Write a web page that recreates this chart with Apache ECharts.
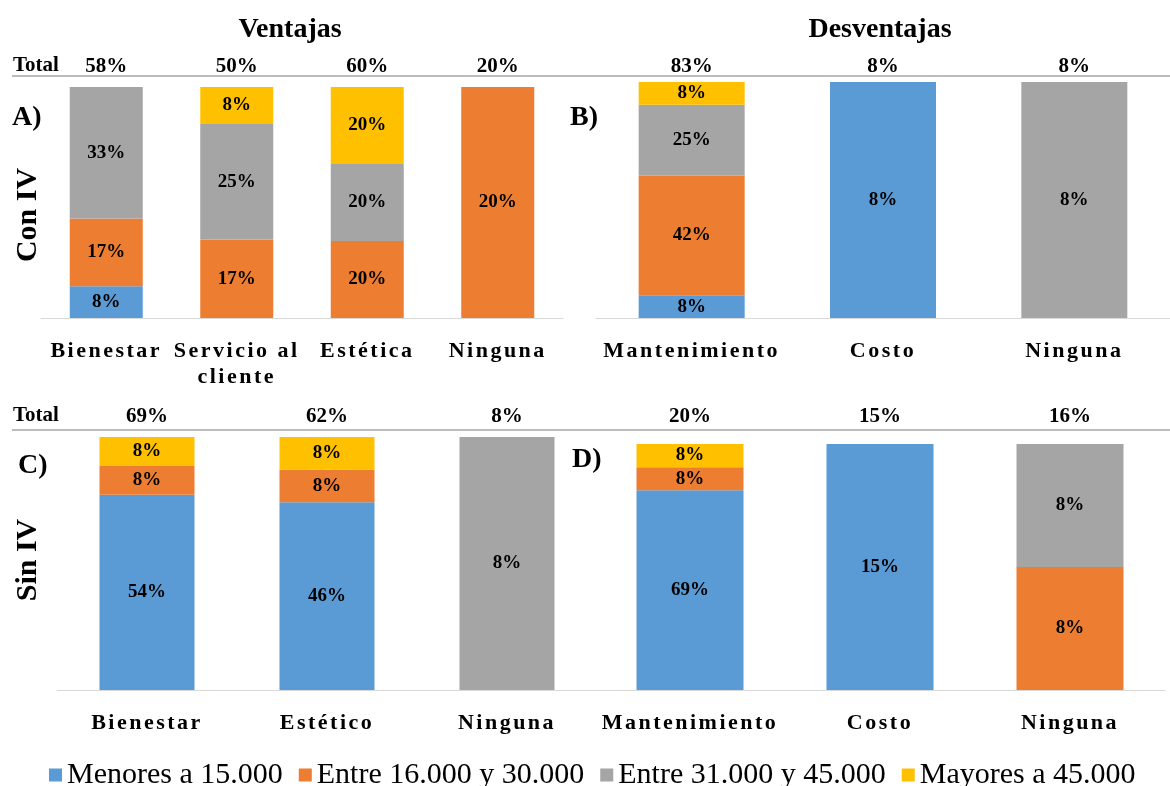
<!DOCTYPE html>
<html>
<head>
<meta charset="utf-8">
<script src="https://cdn.jsdelivr.net/npm/echarts@6/dist/echarts.min.js"></script>
<style>
  html, body { margin: 0; padding: 0; background: #fff; }
  #chart { width: 1170px; height: 786px; }
</style>
</head>
<body>
<div id="chart"></div>
<script>
// rangos de ingreso (leyenda)
const bandNames = ['Menores a 15.000', 'Entre 16.000 y 30.000', 'Entre 31.000 y 45.000', 'Mayores a 45.000'];
const bandColors = ['#5B9BD5', '#ED7D31', '#A5A5A5', '#FFC000'];

// A) Con IV - Ventajas
const catsA = ['Bienestar', 'Servicio al\ncliente', 'Estética', 'Ninguna'];
const totalsA = ['58%', '50%', '60%', '20%'];
const menoresA = [8, 0, 0, 0];
const entre16A = [17, 17, 20, 20];
const entre31A = [33, 25, 20, 0];
const mayoresA = [0, 8, 20, 0];

// B) Con IV - Desventajas
const catsB = ['Mantenimiento', 'Costo', 'Ninguna'];
const totalsB = ['83%', '8%', '8%'];
const menoresB = [8, 8, 0];
const entre16B = [42, 0, 0];
const entre31B = [25, 0, 8];
const mayoresB = [8, 0, 0];

// C) Sin IV - Ventajas
const catsC = ['Bienestar', 'Estético', 'Ninguna'];
const totalsC = ['69%', '62%', '8%'];
const menoresC = [54, 46, 0];
const entre16C = [8, 8, 0];
const entre31C = [0, 0, 8];
const mayoresC = [8, 8, 0];

// D) Sin IV - Desventajas
const catsD = ['Mantenimiento', 'Costo', 'Ninguna'];
const totalsD = ['20%', '15%', '16%'];
const menoresD = [69, 15, 0];
const entre16D = [8, 0, 8];
const entre31D = [0, 0, 8];
const mayoresD = [8, 0, 0];

const FONT = '"Liberation Serif", "Times New Roman", serif';

// las etiquetas de categoría del original van espaciadas (canvas letterSpacing)
const origFillText = CanvasRenderingContext2D.prototype.fillText;
CanvasRenderingContext2D.prototype.fillText = function (t, x, y, w) {
  const spaced = /bold 22px/.test(this.font);
  if (spaced) this.letterSpacing = '2.5px';
  origFillText.call(this, t, x, y, w);
  if (spaced) this.letterSpacing = '0px';
};

const panels = [
  { cats: catsA, totals: totalsA, bands: [menoresA, entre16A, entre31A, mayoresA],
    grid: { left: 41, top: 87, width: 522, height: 231 }, barWidth: 73, topMargin: 10 },
  { cats: catsB, totals: totalsB, bands: [menoresB, entre16B, entre31B, mayoresB],
    grid: { left: 596, top: 82, width: 574, height: 236 }, barWidth: 106, topMargin: 5 },
  { cats: catsC, totals: totalsC, bands: [menoresC, entre16C, entre31C, mayoresC],
    grid: { left: 57, top: 437, width: 540, height: 253 }, barWidth: 95, topMargin: 10 },
  { cats: catsD, totals: totalsD, bands: [menoresD, entre16D, entre31D, mayoresD],
    grid: { left: 595, top: 444, width: 570, height: 246 }, barWidth: 107, topMargin: 17 },
];

const grid = [];
const xAxis = [];
const yAxis = [];
const series = [];

panels.forEach((p, pi) => {
  grid.push(p.grid);
  // eje de categorías (abajo)
  xAxis.push({
    type: 'category', gridIndex: pi, data: p.cats, position: 'bottom',
    axisLine: { lineStyle: { color: '#d9d9d9', width: 1 } },
    axisTick: { show: false },
    axisLabel: {
      interval: 0, margin: 20, color: '#000', fontFamily: FONT,
      fontWeight: 'bold', fontSize: 22, lineHeight: 26,
    },
  });
  // totales (arriba)
  xAxis.push({
    type: 'category', gridIndex: pi, data: p.totals, position: 'top',
    axisLine: { show: false }, axisTick: { show: false },
    axisLabel: {
      interval: 0, margin: p.topMargin, color: '#000', fontFamily: FONT,
      fontWeight: 'bold', fontSize: 21,
    },
  });
  yAxis.push({ type: 'value', gridIndex: pi, min: 0, max: 100, show: false });

  // suma de cada barra, cada barra ocupa el 100%
  const sums = p.cats.map((c, i) => p.bands.reduce((s, b) => s + b[i], 0));
  p.bands.forEach((band, bi) => {
    series.push({
      name: bandNames[bi],
      type: 'bar',
      stack: 'panel' + pi,
      xAxisIndex: pi * 2,
      yAxisIndex: pi,
      barWidth: p.barWidth,
      itemStyle: { color: bandColors[bi] },
      label: {
        show: true, position: 'inside', color: '#000', fontFamily: FONT,
        fontWeight: 'bold', fontSize: 19,
        formatter: (params) => band[params.dataIndex] + '%',
      },
      data: band.map((v, i) => (v ? (v / sums[i]) * 100 : '-')),
    });
  });
});

const textEl = (text, x, y, size, align, rotation) => ({
  type: 'text', x: x, y: y, rotation: rotation || 0,
  style: {
    text: text, fill: '#000', font: 'bold ' + size + 'px ' + FONT,
    textAlign: align || 'left', textVerticalAlign: 'middle',
  },
});

const chart = echarts.init(document.getElementById('chart'));
chart.setOption({
  animation: false,
  backgroundColor: '#fff',
  grid: grid,
  xAxis: xAxis,
  yAxis: yAxis,
  series: series,
  legend: {
    data: bandNames,
    top: 755,
    left: 44,
    icon: 'rect',
    itemWidth: 13,
    itemHeight: 13,
    itemGap: 16,
    textStyle: { color: '#000', fontFamily: FONT, fontSize: 30 },
  },
  graphic: [
    textEl('Ventajas', 290, 30, 28, 'center'),
    textEl('Desventajas', 880, 30, 28, 'center'),
    textEl('Total', 13, 66, 21),
    textEl('Total', 13, 416, 21),
    { type: 'line', shape: { x1: 12, y1: 76, x2: 1170, y2: 76 }, style: { stroke: '#a6a6a6', lineWidth: 1.5 } },
    { type: 'line', shape: { x1: 12, y1: 430, x2: 1170, y2: 430 }, style: { stroke: '#a6a6a6', lineWidth: 1.5 } },
    textEl('A)', 12, 118, 28),
    textEl('B)', 570, 118, 28),
    textEl('C)', 18, 466, 28),
    textEl('D)', 572, 460, 28),
    textEl('Con IV', 28, 215, 30, 'center', Math.PI / 2),
    textEl('Sin IV', 28, 560, 30, 'center', Math.PI / 2),
  ],
});

window.addEventListener('resize', () => chart.resize());
</script>
</body>
</html>
